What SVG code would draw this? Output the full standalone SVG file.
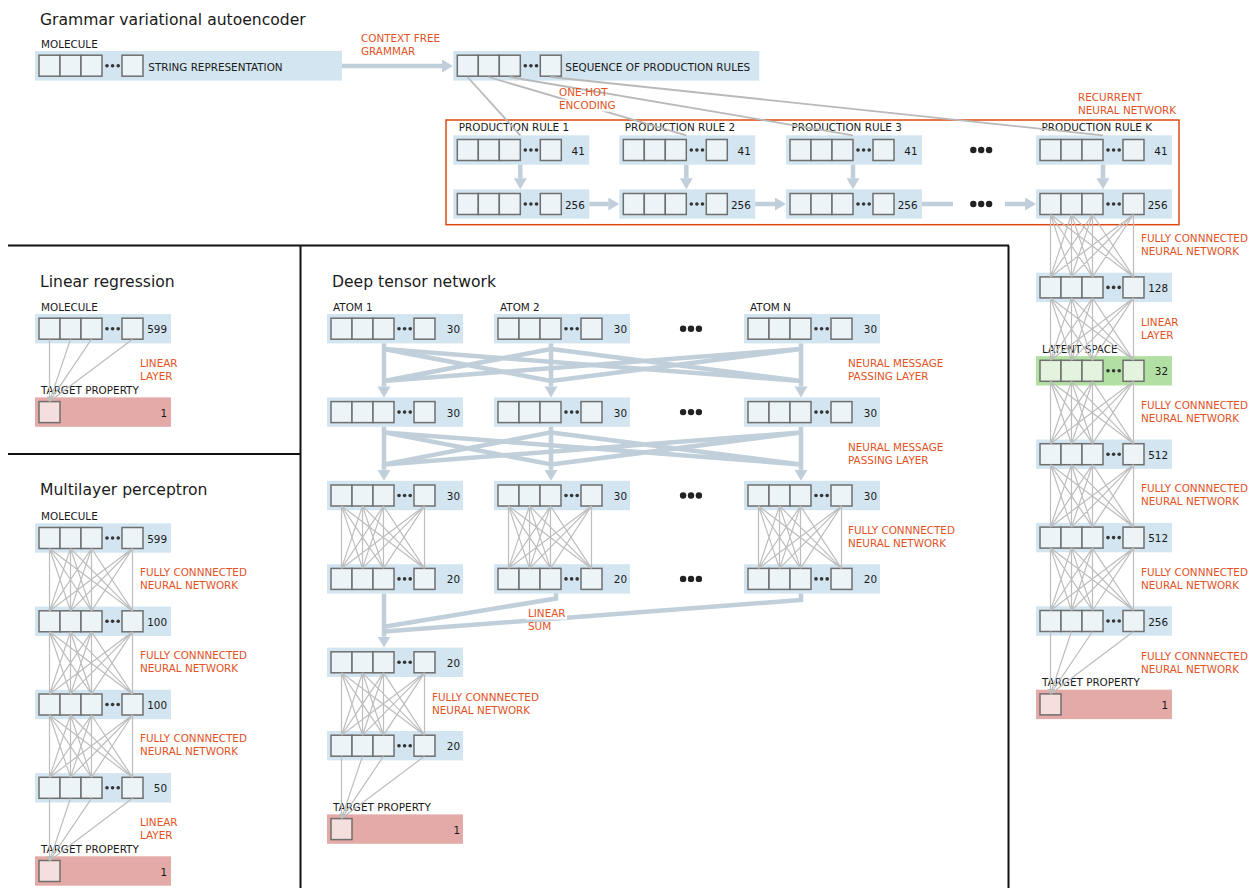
<svg xmlns="http://www.w3.org/2000/svg" xmlns:xlink="http://www.w3.org/1999/xlink" width="1249" height="888" viewBox="0 0 1249 888">
<style>
text{font-family:"DejaVu Sans","Verdana",sans-serif}
.t{font-size:15.6px;fill:#1a1a1a}
.l{font-size:10.4px;fill:#1a1a1a}
.o{font-size:10.4px;fill:#e2531f}
.n{font-size:10.4px;fill:#1a1a1a;text-anchor:end}
.bg{fill:#d2e5f0}
.tbg{fill:#e3aaa7}
.gbg{fill:#b2e0a2}
.cell{stroke:#6f6f6f;stroke-width:1.5}
.thin{fill:none;stroke:#bdbdbd;stroke-width:1.2}
.gl{fill:none;stroke:#b9b9b9;stroke-width:1.8}
.thick{fill:none;stroke:#c0cfd9;stroke-width:4.5}
.arr{marker-end:url(#ah)}
.panel{fill:none;stroke:#111;stroke-width:2}
.big{fill:#222}
</style>
<defs>
<marker id="ah" markerUnits="userSpaceOnUse" markerWidth="12" markerHeight="14" refX="0" refY="6.5" orient="auto"><path d="M0,0L11,6.5L0,13z" fill="#c0cfd9"/></marker>
<g id="cells">
<rect class="cell" x="4" y="4.2" width="21" height="21"/>
<rect class="cell" x="25" y="4.2" width="21" height="21"/>
<rect class="cell" x="46" y="4.2" width="21" height="21"/>
<rect class="cell" x="87" y="4.2" width="21" height="21"/>
<circle cx="72" cy="14.7" r="1.8" fill="#333"/>
<circle cx="77.6" cy="14.7" r="1.8" fill="#333"/>
<circle cx="83.2" cy="14.7" r="1.8" fill="#333"/>
</g>
<path id="fc" class="thin" d="M14.5 0L14.5 62.4M14.5 0L35.5 62.4M14.5 0L56.5 62.4M14.5 0L97.5 62.4M35.5 0L14.5 62.4M35.5 0L35.5 62.4M35.5 0L56.5 62.4M35.5 0L97.5 62.4M56.5 0L14.5 62.4M56.5 0L35.5 62.4M56.5 0L56.5 62.4M56.5 0L97.5 62.4M97.5 0L14.5 62.4M97.5 0L35.5 62.4M97.5 0L56.5 62.4M97.5 0L97.5 62.4"/>
<g id="conv"><path class="thin" d="M14.5 0L14.5 62.4M35.5 0L14.5 62.4M56.5 0L14.5 62.4M97.5 0L14.5 62.4"/><path d="M11.3 57.6H17.7L14.5 62.4z" fill="#bdbdbd"/></g>
</defs>

<g id="panels">
<path class="panel" d="M8 245.5H1009M300.5 245.5V888M1008.5 245.5V888M8 454H300.5"/>
</g>

<g id="titles">
<text class="t" x="40" y="25">Grammar variational autoencoder</text>
<text class="t" x="40" y="287">Linear regression</text>
<text class="t" x="40" y="495">Multilayer perceptron</text>
<text class="t" x="332" y="287">Deep tensor network</text>
</g>

<!-- GVAE -->
<g id="gvae-molecule" transform="translate(35,51)"><text class="l" x="6" y="-3.5">MOLECULE</text><rect class="bg" width="307" height="29.6"/><use href="#cells" fill="#edf4f8"/><text class="l" x="113.3" y="19.6">STRING REPRESENTATION</text></g>
<g id="gvae-sequence" transform="translate(453.3,51)"><rect class="bg" width="306" height="29.6"/><use href="#cells" fill="#edf4f8"/><text class="l" x="112" y="19.6">SEQUENCE OF PRODUCTION RULES</text></g>
<g id="pr1-onehot" transform="translate(453.3,135.3)"><text class="l" x="5.5" y="-4">PRODUCTION RULE 1</text><rect class="bg" width="136" height="29.4"/><use href="#cells" fill="#edf4f8"/><text class="n" x="131.5" y="19.3">41</text></g>
<g id="pr2-onehot" transform="translate(619.3,135.3)"><text class="l" x="5.5" y="-4">PRODUCTION RULE 2</text><rect class="bg" width="136" height="29.4"/><use href="#cells" fill="#edf4f8"/><text class="n" x="131.5" y="19.3">41</text></g>
<g id="pr3-onehot" transform="translate(786,135.3)"><text class="l" x="5.5" y="-4">PRODUCTION RULE 3</text><rect class="bg" width="136" height="29.4"/><use href="#cells" fill="#edf4f8"/><text class="n" x="131.5" y="19.3">41</text></g>
<g id="prk-onehot" transform="translate(1036,135.3)"><text class="l" x="5.5" y="-4">PRODUCTION RULE K</text><rect class="bg" width="136" height="29.4"/><use href="#cells" fill="#edf4f8"/><text class="n" x="131.5" y="19.3">41</text></g>
<g id="pr1-hidden" transform="translate(453.3,189.3)"><rect class="bg" width="136" height="29.4"/><use href="#cells" fill="#edf4f8"/><text class="n" x="131.5" y="19.3">256</text></g>
<g id="pr2-hidden" transform="translate(619.3,189.3)"><rect class="bg" width="136" height="29.4"/><use href="#cells" fill="#edf4f8"/><text class="n" x="131.5" y="19.3">256</text></g>
<g id="pr3-hidden" transform="translate(786,189.3)"><rect class="bg" width="136" height="29.4"/><use href="#cells" fill="#edf4f8"/><text class="n" x="131.5" y="19.3">256</text></g>
<g id="prk-hidden" transform="translate(1036,189.3)"><rect class="bg" width="136" height="29.4"/><use href="#cells" fill="#edf4f8"/><text class="n" x="131.5" y="19.3">256</text></g>
<g id="rnn-box"><rect x="446" y="120" width="733" height="104.7" fill="none" stroke="#e04812" stroke-width="1.5"/></g>
<g id="pr-ellipsis"><circle class="big" cx="973.3" cy="150" r="3.2"/><circle class="big" cx="981.2" cy="150" r="3.2"/><circle class="big" cx="989.1" cy="150" r="3.2"/><circle class="big" cx="973.3" cy="204" r="3.2"/><circle class="big" cx="981.2" cy="204" r="3.2"/><circle class="big" cx="989.1" cy="204" r="3.2"/></g>
<g id="gvae-128" transform="translate(1036,272.7)"><rect class="bg" width="136" height="29.4"/><use href="#cells" fill="#edf4f8"/><text class="n" x="132" y="19.3">128</text></g>
<g id="gvae-latent" transform="translate(1036,356.1)"><text class="l" x="6" y="-3.5">LATENT SPACE</text><rect class="gbg" width="136" height="29.4"/><use href="#cells" fill="#e3f3dd"/><text class="n" x="132" y="19.3">32</text></g>
<g id="gvae-512a" transform="translate(1036,439.5)"><rect class="bg" width="136" height="29.4"/><use href="#cells" fill="#edf4f8"/><text class="n" x="132" y="19.3">512</text></g>
<g id="gvae-512b" transform="translate(1036,522.9)"><rect class="bg" width="136" height="29.4"/><use href="#cells" fill="#edf4f8"/><text class="n" x="132" y="19.3">512</text></g>
<g id="gvae-256" transform="translate(1036,606.3)"><rect class="bg" width="136" height="29.4"/><use href="#cells" fill="#edf4f8"/><text class="n" x="132" y="19.3">256</text></g>
<g id="gvae-target" transform="translate(1036,689.7)"><text class="l" x="6" y="-3.5">TARGET PROPERTY</text><rect class="tbg" width="136" height="29.4"/><rect class="cell" x="4" y="4.2" width="21" height="21" fill="#f5dfdd"/><text class="n" x="132" y="19.3">1</text></g>

<!-- Linear regression -->
<g id="lr-molecule" transform="translate(35,314)"><text class="l" x="6" y="-3.5">MOLECULE</text><rect class="bg" width="136" height="29.4"/><use href="#cells" fill="#edf4f8"/><text class="n" x="132" y="19.3">599</text></g>
<g id="lr-target" transform="translate(35,397.4)"><text class="l" x="6" y="-3.5">TARGET PROPERTY</text><rect class="tbg" width="136" height="29.4"/><rect class="cell" x="4" y="4.2" width="21" height="21" fill="#f5dfdd"/><text class="n" x="132" y="19.3">1</text></g>

<!-- MLP -->
<g id="mlp-molecule" transform="translate(35,523.3)"><text class="l" x="6" y="-3.5">MOLECULE</text><rect class="bg" width="136" height="29.4"/><use href="#cells" fill="#edf4f8"/><text class="n" x="132" y="19.3">599</text></g>
<g id="mlp-100a" transform="translate(35,606.6)"><rect class="bg" width="136" height="29.4"/><use href="#cells" fill="#edf4f8"/><text class="n" x="132" y="19.3">100</text></g>
<g id="mlp-100b" transform="translate(35,689.8)"><rect class="bg" width="136" height="29.4"/><use href="#cells" fill="#edf4f8"/><text class="n" x="132" y="19.3">100</text></g>
<g id="mlp-50" transform="translate(35,773.1)"><rect class="bg" width="136" height="29.4"/><use href="#cells" fill="#edf4f8"/><text class="n" x="132" y="19.3">50</text></g>
<g id="mlp-target" transform="translate(35,856.3)"><text class="l" x="6" y="-3.5">TARGET PROPERTY</text><rect class="tbg" width="136" height="29.4"/><rect class="cell" x="4" y="4.2" width="21" height="21" fill="#f5dfdd"/><text class="n" x="132" y="19.3">1</text></g>

<!-- DTN -->
<g id="dtn-a1-r1" transform="translate(327,314)"><text class="l" x="6" y="-3.5">ATOM 1</text><rect class="bg" width="136" height="29.4"/><use href="#cells" fill="#edf4f8"/><text class="n" x="133" y="19.3">30</text></g>
<g id="dtn-a2-r1" transform="translate(494,314)"><text class="l" x="6" y="-3.5">ATOM 2</text><rect class="bg" width="136" height="29.4"/><use href="#cells" fill="#edf4f8"/><text class="n" x="133" y="19.3">30</text></g>
<g id="dtn-an-r1" transform="translate(744,314)"><text class="l" x="6" y="-3.5">ATOM N</text><rect class="bg" width="136" height="29.4"/><use href="#cells" fill="#edf4f8"/><text class="n" x="133" y="19.3">30</text></g>
<g id="dtn-a1-r2" transform="translate(327,397.4)"><rect class="bg" width="136" height="29.4"/><use href="#cells" fill="#edf4f8"/><text class="n" x="133" y="19.3">30</text></g>
<g id="dtn-a2-r2" transform="translate(494,397.4)"><rect class="bg" width="136" height="29.4"/><use href="#cells" fill="#edf4f8"/><text class="n" x="133" y="19.3">30</text></g>
<g id="dtn-an-r2" transform="translate(744,397.4)"><rect class="bg" width="136" height="29.4"/><use href="#cells" fill="#edf4f8"/><text class="n" x="133" y="19.3">30</text></g>
<g id="dtn-a1-r3" transform="translate(327,480.8)"><rect class="bg" width="136" height="29.4"/><use href="#cells" fill="#edf4f8"/><text class="n" x="133" y="19.3">30</text></g>
<g id="dtn-a2-r3" transform="translate(494,480.8)"><rect class="bg" width="136" height="29.4"/><use href="#cells" fill="#edf4f8"/><text class="n" x="133" y="19.3">30</text></g>
<g id="dtn-an-r3" transform="translate(744,480.8)"><rect class="bg" width="136" height="29.4"/><use href="#cells" fill="#edf4f8"/><text class="n" x="133" y="19.3">30</text></g>
<g id="dtn-a1-r4" transform="translate(327,564.2)"><rect class="bg" width="136" height="29.4"/><use href="#cells" fill="#edf4f8"/><text class="n" x="133" y="19.3">20</text></g>
<g id="dtn-a2-r4" transform="translate(494,564.2)"><rect class="bg" width="136" height="29.4"/><use href="#cells" fill="#edf4f8"/><text class="n" x="133" y="19.3">20</text></g>
<g id="dtn-an-r4" transform="translate(744,564.2)"><rect class="bg" width="136" height="29.4"/><use href="#cells" fill="#edf4f8"/><text class="n" x="133" y="19.3">20</text></g>
<g id="dtn-sum" transform="translate(327,647.6)"><rect class="bg" width="136" height="29.4"/><use href="#cells" fill="#edf4f8"/><text class="n" x="133" y="19.3">20</text></g>
<g id="dtn-fc" transform="translate(327,731)"><rect class="bg" width="136" height="29.4"/><use href="#cells" fill="#edf4f8"/><text class="n" x="133" y="19.3">20</text></g>
<g id="dtn-target" transform="translate(327,814.4)"><text class="l" x="6" y="-3.5">TARGET PROPERTY</text><rect class="tbg" width="136" height="29.4"/><rect class="cell" x="4" y="4.2" width="21" height="21" fill="#f5dfdd"/><text class="n" x="133" y="19.3">1</text></g>
<g id="dtn-ellipsis"><circle class="big" cx="683.1" cy="328.7" r="3.2"/><circle class="big" cx="691" cy="328.7" r="3.2"/><circle class="big" cx="698.9" cy="328.7" r="3.2"/><circle class="big" cx="683.1" cy="412.1" r="3.2"/><circle class="big" cx="691" cy="412.1" r="3.2"/><circle class="big" cx="698.9" cy="412.1" r="3.2"/><circle class="big" cx="683.1" cy="495.5" r="3.2"/><circle class="big" cx="691" cy="495.5" r="3.2"/><circle class="big" cx="698.9" cy="495.5" r="3.2"/><circle class="big" cx="683.1" cy="578.9" r="3.2"/><circle class="big" cx="691" cy="578.9" r="3.2"/><circle class="big" cx="698.9" cy="578.9" r="3.2"/></g>

<g id="connectors">
<!-- GVAE thick -->
<path class="thick arr" d="M342 66H442"/>
<path class="thick arr" d="M520.3 164.7V178.3"/>
<path class="thick arr" d="M686.3 164.7V178.3"/>
<path class="thick arr" d="M853 164.7V178.3"/>
<path class="thick arr" d="M1103 164.7V178.3"/>
<path class="thick arr" d="M589.3 204H608.3"/>
<path class="thick arr" d="M755.3 204H775"/>
<path class="thick" d="M922 204H953"/>
<path class="thick arr" d="M1005 204H1025"/>
<!-- one-hot encoding lines -->
<path class="gl" d="M467.5 77L520.3 135.3M488.5 77L686.3 135.3M509.5 77L853 135.3M550.5 77L1103 135.3"/>
<!-- GVAE right column -->
<use href="#fc" x="1036" y="214.5"/>
<use href="#fc" x="1036" y="297.9"/>
<use href="#fc" x="1036" y="381.3"/>
<use href="#fc" x="1036" y="464.7"/>
<use href="#fc" x="1036" y="548.1"/>
<use href="#conv" x="1036" y="631.5"/>
<!-- LR -->
<use href="#conv" x="35" y="339.2"/>
<!-- MLP -->
<use href="#fc" x="35" y="548.5"/>
<use href="#fc" x="35" y="631.8"/>
<use href="#fc" x="35" y="715"/>
<use href="#conv" x="35" y="798.3"/>
<!-- DTN message passing -->
<path class="thick arr" d="M384 343.4V386.4"/>
<path class="thick arr" d="M551 343.4V386.4"/>
<path class="thick arr" d="M801 343.4V386.4"/>
<path class="thick" d="M384 349L551 381M384 349L801 381M551 349L384 381M551 349L801 381M801 349L384 381M801 349L551 381"/>
<path class="thick arr" d="M384 426.8V469.8"/>
<path class="thick arr" d="M551 426.8V469.8"/>
<path class="thick arr" d="M801 426.8V469.8"/>
<path class="thick" d="M384 432.4L551 464.4M384 432.4L801 464.4M551 432.4L384 464.4M551 432.4L801 464.4M801 432.4L384 464.4M801 432.4L551 464.4"/>
<!-- DTN fully connected per atom -->
<use href="#fc" x="327" y="506"/>
<use href="#fc" x="494" y="506"/>
<use href="#fc" x="744" y="506"/>
<!-- linear sum -->
<path class="thick arr" d="M384 593.6V636.6"/>
<path class="thick" d="M556 593.6V598.5L384 626.7M801 593.6V600L384 631.5"/>
<use href="#fc" x="327" y="672.8"/>
<use href="#conv" x="327" y="756.2"/>
</g>

<g id="annotations">
<text class="o" x="361" y="41.7">CONTEXT FREE</text>
<text class="o" x="361" y="55">GRAMMAR</text>
<rect x="557" y="99.5" width="60" height="12" fill="#fff"/>
<text class="o" x="559" y="96">ONE-HOT</text>
<text class="o" x="559" y="108.5">ENCODING</text>
<text class="o" x="1078" y="101">RECURRENT</text>
<text class="o" x="1078" y="114.3">NEURAL NETWORK</text>
<text class="o" x="1141" y="242">FULLY CONNNECTED</text>
<text class="o" x="1141" y="255">NEURAL NETWORK</text>
<text class="o" x="1141" y="325.5">LINEAR</text>
<text class="o" x="1141" y="338.5">LAYER</text>
<text class="o" x="1141" y="409">FULLY CONNNECTED</text>
<text class="o" x="1141" y="422">NEURAL NETWORK</text>
<text class="o" x="1141" y="492">FULLY CONNNECTED</text>
<text class="o" x="1141" y="505">NEURAL NETWORK</text>
<text class="o" x="1141" y="576">FULLY CONNNECTED</text>
<text class="o" x="1141" y="589">NEURAL NETWORK</text>
<text class="o" x="1141" y="659.5">FULLY CONNNECTED</text>
<text class="o" x="1141" y="672.5">NEURAL NETWORK</text>
<text class="o" x="140" y="367">LINEAR</text>
<text class="o" x="140" y="380">LAYER</text>
<text class="o" x="140" y="575.5">FULLY CONNNECTED</text>
<text class="o" x="140" y="588.5">NEURAL NETWORK</text>
<text class="o" x="140" y="658.5">FULLY CONNNECTED</text>
<text class="o" x="140" y="671.5">NEURAL NETWORK</text>
<text class="o" x="140" y="742">FULLY CONNNECTED</text>
<text class="o" x="140" y="755">NEURAL NETWORK</text>
<text class="o" x="140" y="825.5">LINEAR</text>
<text class="o" x="140" y="838.5">LAYER</text>
<text class="o" x="848" y="367">NEURAL MESSAGE</text>
<text class="o" x="848" y="380">PASSING LAYER</text>
<text class="o" x="848" y="450.5">NEURAL MESSAGE</text>
<text class="o" x="848" y="463.5">PASSING LAYER</text>
<text class="o" x="848" y="533.5">FULLY CONNNECTED</text>
<text class="o" x="848" y="546.5">NEURAL NETWORK</text>
<rect x="526" y="608" width="41" height="11.5" fill="#fff"/>
<text class="o" x="528" y="617">LINEAR</text>
<text class="o" x="528" y="630">SUM</text>
<text class="o" x="432" y="701">FULLY CONNNECTED</text>
<text class="o" x="432" y="714">NEURAL NETWORK</text>
</g>
</svg>
